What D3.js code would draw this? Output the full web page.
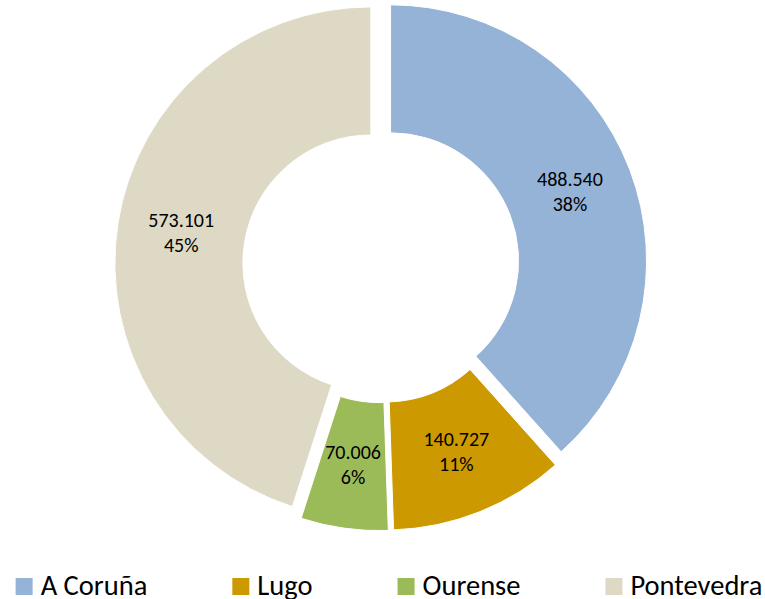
<!DOCTYPE html>
<html>
<head>
<meta charset="utf-8">
<script src="https://cdn.jsdelivr.net/npm/d3@7"></script>
<style>
  html, body { margin: 0; padding: 0; background: #ffffff; }
  svg { display: block; }
  text { font-family: Carlito, Calibri, Lato, "Open Sans", sans-serif; fill: #000000; }
</style>
</head>
<body>
<svg id="chart" width="765" height="599"></svg>
<script>
const categories = ["A Coruña", "Lugo", "Ourense", "Pontevedra"];
const values = [488540, 140727, 70006, 573101];
const colors = ["#95B3D7", "#CC9900", "#9BBB59", "#DDD9C4"];

const W = 765, H = 599;
const cx = 381, cy = 264.5;
const outerR = 256, innerR = 128, explode = 10.25;

const svg = d3.select("#chart");
svg.append("rect").attr("width", W).attr("height", H).attr("fill", "#ffffff");

const locale = d3.formatLocale({ decimal: ",", thousands: ".", grouping: [3], currency: ["", "€"] });
const fmtVal = locale.format(",d");
const total = d3.sum(values);
const fmtPct = v => Math.round(v / total * 100) + "%";

const color = d3.scaleOrdinal().domain(categories).range(colors);

const pie = d3.pie().sort(null).value((d, i) => values[i]).startAngle(0).endAngle(2 * Math.PI);
const arcs = pie(categories);
const arc = d3.arc().innerRadius(innerR).outerRadius(outerR);

const g = svg.append("g").attr("transform", `translate(${cx},${cy})`);

function offset(d) {
  const m = (d.startAngle + d.endAngle) / 2;
  return [Math.sin(m) * explode, -Math.cos(m) * explode];
}

const slice = g.selectAll("g.slice").data(arcs).enter().append("g")
  .attr("class", "slice")
  .attr("transform", d => { const o = offset(d); return `translate(${o[0]},${o[1]})`; });

slice.append("path")
  .attr("d", arc)
  .attr("fill", d => color(d.data))
  .attr("stroke", "#ffffff")
  .attr("stroke-width", 1);

const labelSize = 20;
slice.each(function(d, i) {
  const c = arc.centroid(d);
  const t = d3.select(this).append("text")
    .attr("text-anchor", "middle")
    .attr("font-size", labelSize);
  t.append("tspan").attr("x", c[0]).attr("y", c[1] - 6).text(fmtVal(values[i]));
  t.append("tspan").attr("x", c[0]).attr("y", c[1] + 19).text(fmtPct(values[i]));
});

// Legend
const legendSize = 28.5, sw = 17, gapText = 8, gapItem = 85, legendCenter = 389;
const lg = svg.append("g");
const items = categories.map((c, i) => {
  const it = lg.append("g");
  it.append("rect").attr("width", sw).attr("height", sw).attr("y", 578).attr("fill", colors[i]);
  const tx = it.append("text").attr("x", sw + gapText).attr("y", 594.5).attr("font-size", legendSize).text(c);
  return { g: it, w: sw + gapText + tx.node().getComputedTextLength() };
});
const totalW = d3.sum(items, d => d.w) + gapItem * (items.length - 1);
let x0 = legendCenter - totalW / 2;
items.forEach(it => { it.g.attr("transform", `translate(${x0},0)`); x0 += it.w + gapItem; });
</script>
</body>
</html>
